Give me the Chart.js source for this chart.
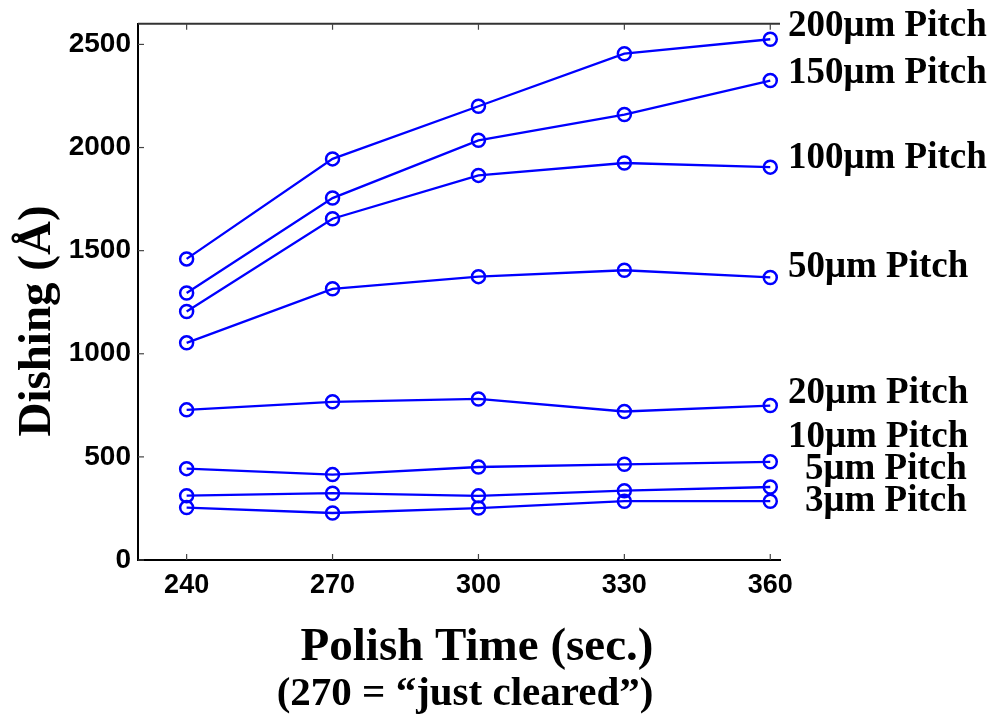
<!DOCTYPE html>
<html>
<head>
<meta charset="utf-8">
<script src="https://cdn.jsdelivr.net/npm/chart.js@4.4.1/dist/chart.umd.min.js"></script>
<style>
  html, body { margin: 0; padding: 0; background: #fff; }
  #wrap { width: 992px; height: 717px; }
</style>
</head>
<body>
<div id="wrap"><canvas id="chart"></canvas></div>
<script>
// polish times (sec.)
var polishTimes = [240, 270, 300, 330, 360];

// dishing (Angstrom) per pitch
var pitch200 = [1460, 1945, 2200, 2455, 2525];
var pitch150 = [1295, 1755, 2035, 2160, 2325];
var pitch100 = [1205, 1655, 1865, 1925, 1905];
var pitch50  = [1053, 1315, 1374, 1405, 1370];
var pitch20  = [728, 767, 781, 720, 749];
var pitch10  = [443, 414, 451, 464, 476];
var pitch5   = [312, 324, 311, 336, 354];
var pitch3   = [254, 228, 252, 285, 285];

var seriesNames = ['200\u03bcm Pitch', '150\u03bcm Pitch', '100\u03bcm Pitch', '50\u03bcm Pitch',
                   '20\u03bcm Pitch', '10\u03bcm Pitch', '5\u03bcm Pitch', '3\u03bcm Pitch'];
var seriesValues = [pitch200, pitch150, pitch100, pitch50, pitch20, pitch10, pitch5, pitch3];

var xTicks = [240, 270, 300, 330, 360];
var yTicks = [0, 500, 1000, 1500, 2000, 2500];

// where the pitch labels sit (left x, baseline y)
var labelSpots = [[788, 36], [788, 83], [788, 168], [788, 277],
                  [788, 403], [788, 447], [805, 479], [805, 511]];

var BLUE = '#0000ff';

function makeSet(name, vals) {
  return {
    label: name,
    data: polishTimes.map(function (t, i) { return { x: t, y: vals[i] }; }),
    borderColor: BLUE,
    borderWidth: 2.3,
    backgroundColor: 'rgba(0,0,0,0)',
    pointStyle: 'circle',
    pointRadius: 6.5,
    pointBorderWidth: 2.5,
    pointBorderColor: BLUE,
    pointBackgroundColor: 'rgba(0,0,0,0)',
    tension: 0
  };
}

// axes frame, inward ticks, titles and the pitch labels
var decorPlugin = {
  id: 'decor',
  afterDraw: function (chart) {
    var ctx = chart.ctx;
    var a = chart.chartArea;
    var xs = chart.scales.x, ys = chart.scales.y;
    ctx.save();

    // top frame line
    ctx.strokeStyle = '#333';
    ctx.lineWidth = 2;
    ctx.beginPath();
    ctx.moveTo(a.left, a.top);
    ctx.lineTo(a.right, a.top);
    ctx.stroke();

    ctx.lineWidth = 1.2;
    ctx.strokeStyle = '#444';
    xTicks.forEach(function (t) {
      var px = xs.getPixelForValue(t);
      ctx.beginPath();
      ctx.moveTo(px, a.bottom); ctx.lineTo(px, a.bottom - 6);
      ctx.moveTo(px, a.top); ctx.lineTo(px, a.top + 6);
      ctx.stroke();
    });
    yTicks.forEach(function (t) {
      var py = ys.getPixelForValue(t);
      ctx.beginPath();
      ctx.moveTo(a.left, py); ctx.lineTo(a.left + 6, py);
      ctx.stroke();
    });

    ctx.fillStyle = '#000';
    // y title
    ctx.save();
    ctx.translate(50, 321);
    ctx.rotate(-Math.PI / 2);
    ctx.font = 'bold 47px "Liberation Serif", "Times New Roman", serif';
    ctx.textAlign = 'center';
    ctx.textBaseline = 'alphabetic';
    ctx.fillText('Dishing (\u00c5)', 0, 0);
    ctx.restore();

    // x title, two lines
    ctx.textAlign = 'center';
    ctx.textBaseline = 'alphabetic';
    ctx.font = 'bold 47px "Liberation Serif", "Times New Roman", serif';
    ctx.fillText('Polish Time (sec.)', 477, 660);
    ctx.font = 'bold 41px "Liberation Serif", "Times New Roman", serif';
    ctx.fillText('(270 = \u201cjust cleared\u201d)', 465, 705);

    // pitch labels
    ctx.textAlign = 'left';
    ctx.font = 'bold 37px "Liberation Serif", "Times New Roman", serif';
    seriesNames.forEach(function (n, i) {
      ctx.fillText(n, labelSpots[i][0], labelSpots[i][1]);
    });
    ctx.restore();
  }
};

function plainTick(v) { return String(v); }

new Chart(document.getElementById('chart'), {
  type: 'line',
  data: { datasets: seriesNames.map(function (n, i) { return makeSet(n, seriesValues[i]); }) },
  options: {
    responsive: true,
    maintainAspectRatio: false,
    animation: false,
    layout: { padding: { top: 23, right: 212, left: 0, bottom: 0 } },
    plugins: { legend: { display: false }, tooltip: { enabled: false } },
    scales: {
      x: {
        type: 'linear',
        min: 230,
        max: 362,
        afterBuildTicks: function (s) { s.ticks = xTicks.map(function (v) { return { value: v }; }); },
        afterFit: function (s) { s.height = 157; },
        grid: { display: false, drawTicks: false },
        border: { display: true, color: '#000', width: 2 },
        ticks: {
          padding: 9,
          color: '#000',
          callback: plainTick,
          font: { family: '"Liberation Sans", Arial, sans-serif', size: 27, weight: 'bold' },
          maxRotation: 0
        }
      },
      y: {
        min: 0,
        max: 2600,
        afterBuildTicks: function (s) { s.ticks = yTicks.map(function (v) { return { value: v }; }); },
        afterFit: function (s) { s.width = 138; },
        grid: { display: false, drawTicks: false },
        border: { display: true, color: '#000', width: 2 },
        ticks: {
          padding: 7,
          color: '#000',
          callback: plainTick,
          font: { family: '"Liberation Sans", Arial, sans-serif', size: 28, weight: 'bold' }
        }
      }
    }
  },
  plugins: [decorPlugin]
});
</script>
</body>
</html>
